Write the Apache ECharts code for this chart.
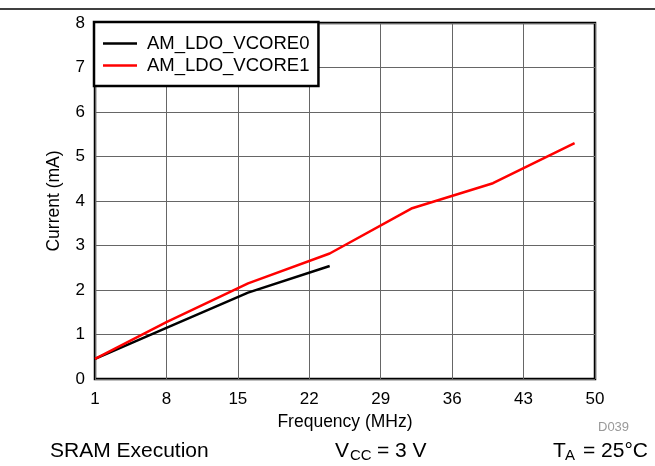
<!DOCTYPE html>
<html>
<head>
<meta charset="utf-8">
<script src="https://cdn.jsdelivr.net/npm/echarts@6/dist/echarts.min.js"></script>
<style>html,body{margin:0;padding:0;background:#fff;}#c{width:655px;height:466px;}</style>
</head>
<body>
<div id="c"></div>
<script>
var freqVcore0 = [1, 8, 16, 24];
var curVcore0 = [0.45, 1.15, 1.94, 2.54];
var freqVcore1 = [1, 8, 16, 24, 32, 40, 48];
var curVcore1 = [0.45, 1.28, 2.15, 2.82, 3.83, 4.40, 5.30];
var seriesNames = ['AM_LDO_VCORE0', 'AM_LDO_VCORE1'];

function pairs(xs, ys) { return xs.map(function (x, i) { return [x, ys[i]]; }); }

var font = 'Liberation Sans, Arial, sans-serif';
var chart = echarts.init(document.getElementById('c'));
chart.setOption({
  animation: false,
  backgroundColor: '#fff',
  textStyle: { fontFamily: font },
  grid: { left: 95, right: 60, top: 23, bottom: 87, show: true, borderColor: '#000', borderWidth: 2.5, backgroundColor: 'transparent', containLabel: false },
  legend: {
    orient: 'vertical', left: 94, top: 22,
    data: seriesNames,
    icon: 'rect', itemWidth: 34, itemHeight: 2.5, itemGap: 3,
    padding: [12, 9, 11, 9],
    backgroundColor: '#fff', borderColor: '#000', borderWidth: 2.5, borderRadius: 0,
    textStyle: { fontFamily: font, fontSize: 18.5, color: '#000', lineHeight: 18, padding: [0, 0, 0, 5] }
  },
  xAxis: {
    type: 'value', min: 1, max: 50, interval: 7,
    name: 'Frequency (MHz)', nameLocation: 'middle', nameGap: 30,
    nameTextStyle: { fontFamily: font, fontSize: 17.5, color: '#000' },
    axisLine: { show: false }, axisTick: { show: false },
    axisLabel: { fontFamily: font, fontSize: 17, color: '#000', margin: 12 },
    splitLine: { show: true, lineStyle: { color: '#666', width: 1 } }
  },
  yAxis: {
    type: 'value', min: 0, max: 8, interval: 1,
    name: 'Current (mA)', nameLocation: 'middle', nameGap: 32, nameRotate: 90,
    nameTextStyle: { fontFamily: font, fontSize: 17.5, color: '#000' },
    axisLine: { show: false }, axisTick: { show: false },
    axisLabel: { fontFamily: font, fontSize: 17, color: '#000', margin: 10 },
    splitLine: { show: true, lineStyle: { color: '#666', width: 1 } }
  },
  series: [
    { name: seriesNames[0], type: 'line', data: pairs(freqVcore0, curVcore0), symbol: 'none', lineStyle: { color: '#000', width: 2.5 }, itemStyle: { color: '#000' } },
    { name: seriesNames[1], type: 'line', data: pairs(freqVcore1, curVcore1), symbol: 'none', lineStyle: { color: '#ff0000', width: 2.5 }, itemStyle: { color: '#ff0000' } }
  ],
  graphic: [
    { type: 'line', shape: { x1: 0, y1: 9, x2: 655, y2: 9 }, style: { stroke: '#000', lineWidth: 1.5 } },
    { type: 'text', left: 598, top: 421, style: { text: 'D039', font: '13px ' + font, fill: '#999' } },
    { type: 'text', left: 50, top: 441, style: { text: 'SRAM Execution', font: '21px ' + font, fill: '#000' } },
    { type: 'text', left: 335, top: 441, style: { text: 'V', font: '21px ' + font, fill: '#000' } },
    { type: 'text', left: 350, top: 448, style: { text: 'CC', font: '15px ' + font, fill: '#000' } },
    { type: 'text', left: 377, top: 441, style: { text: '= 3 V', font: '21px ' + font, fill: '#000' } },
    { type: 'text', left: 553, top: 441, style: { text: 'T', font: '21px ' + font, fill: '#000' } },
    { type: 'text', left: 565, top: 448, style: { text: 'A', font: '15px ' + font, fill: '#000' } },
    { type: 'text', left: 583, top: 441, style: { text: '= 25°C', font: '21px ' + font, fill: '#000' } }
  ]
});
</script>
</body>
</html>
